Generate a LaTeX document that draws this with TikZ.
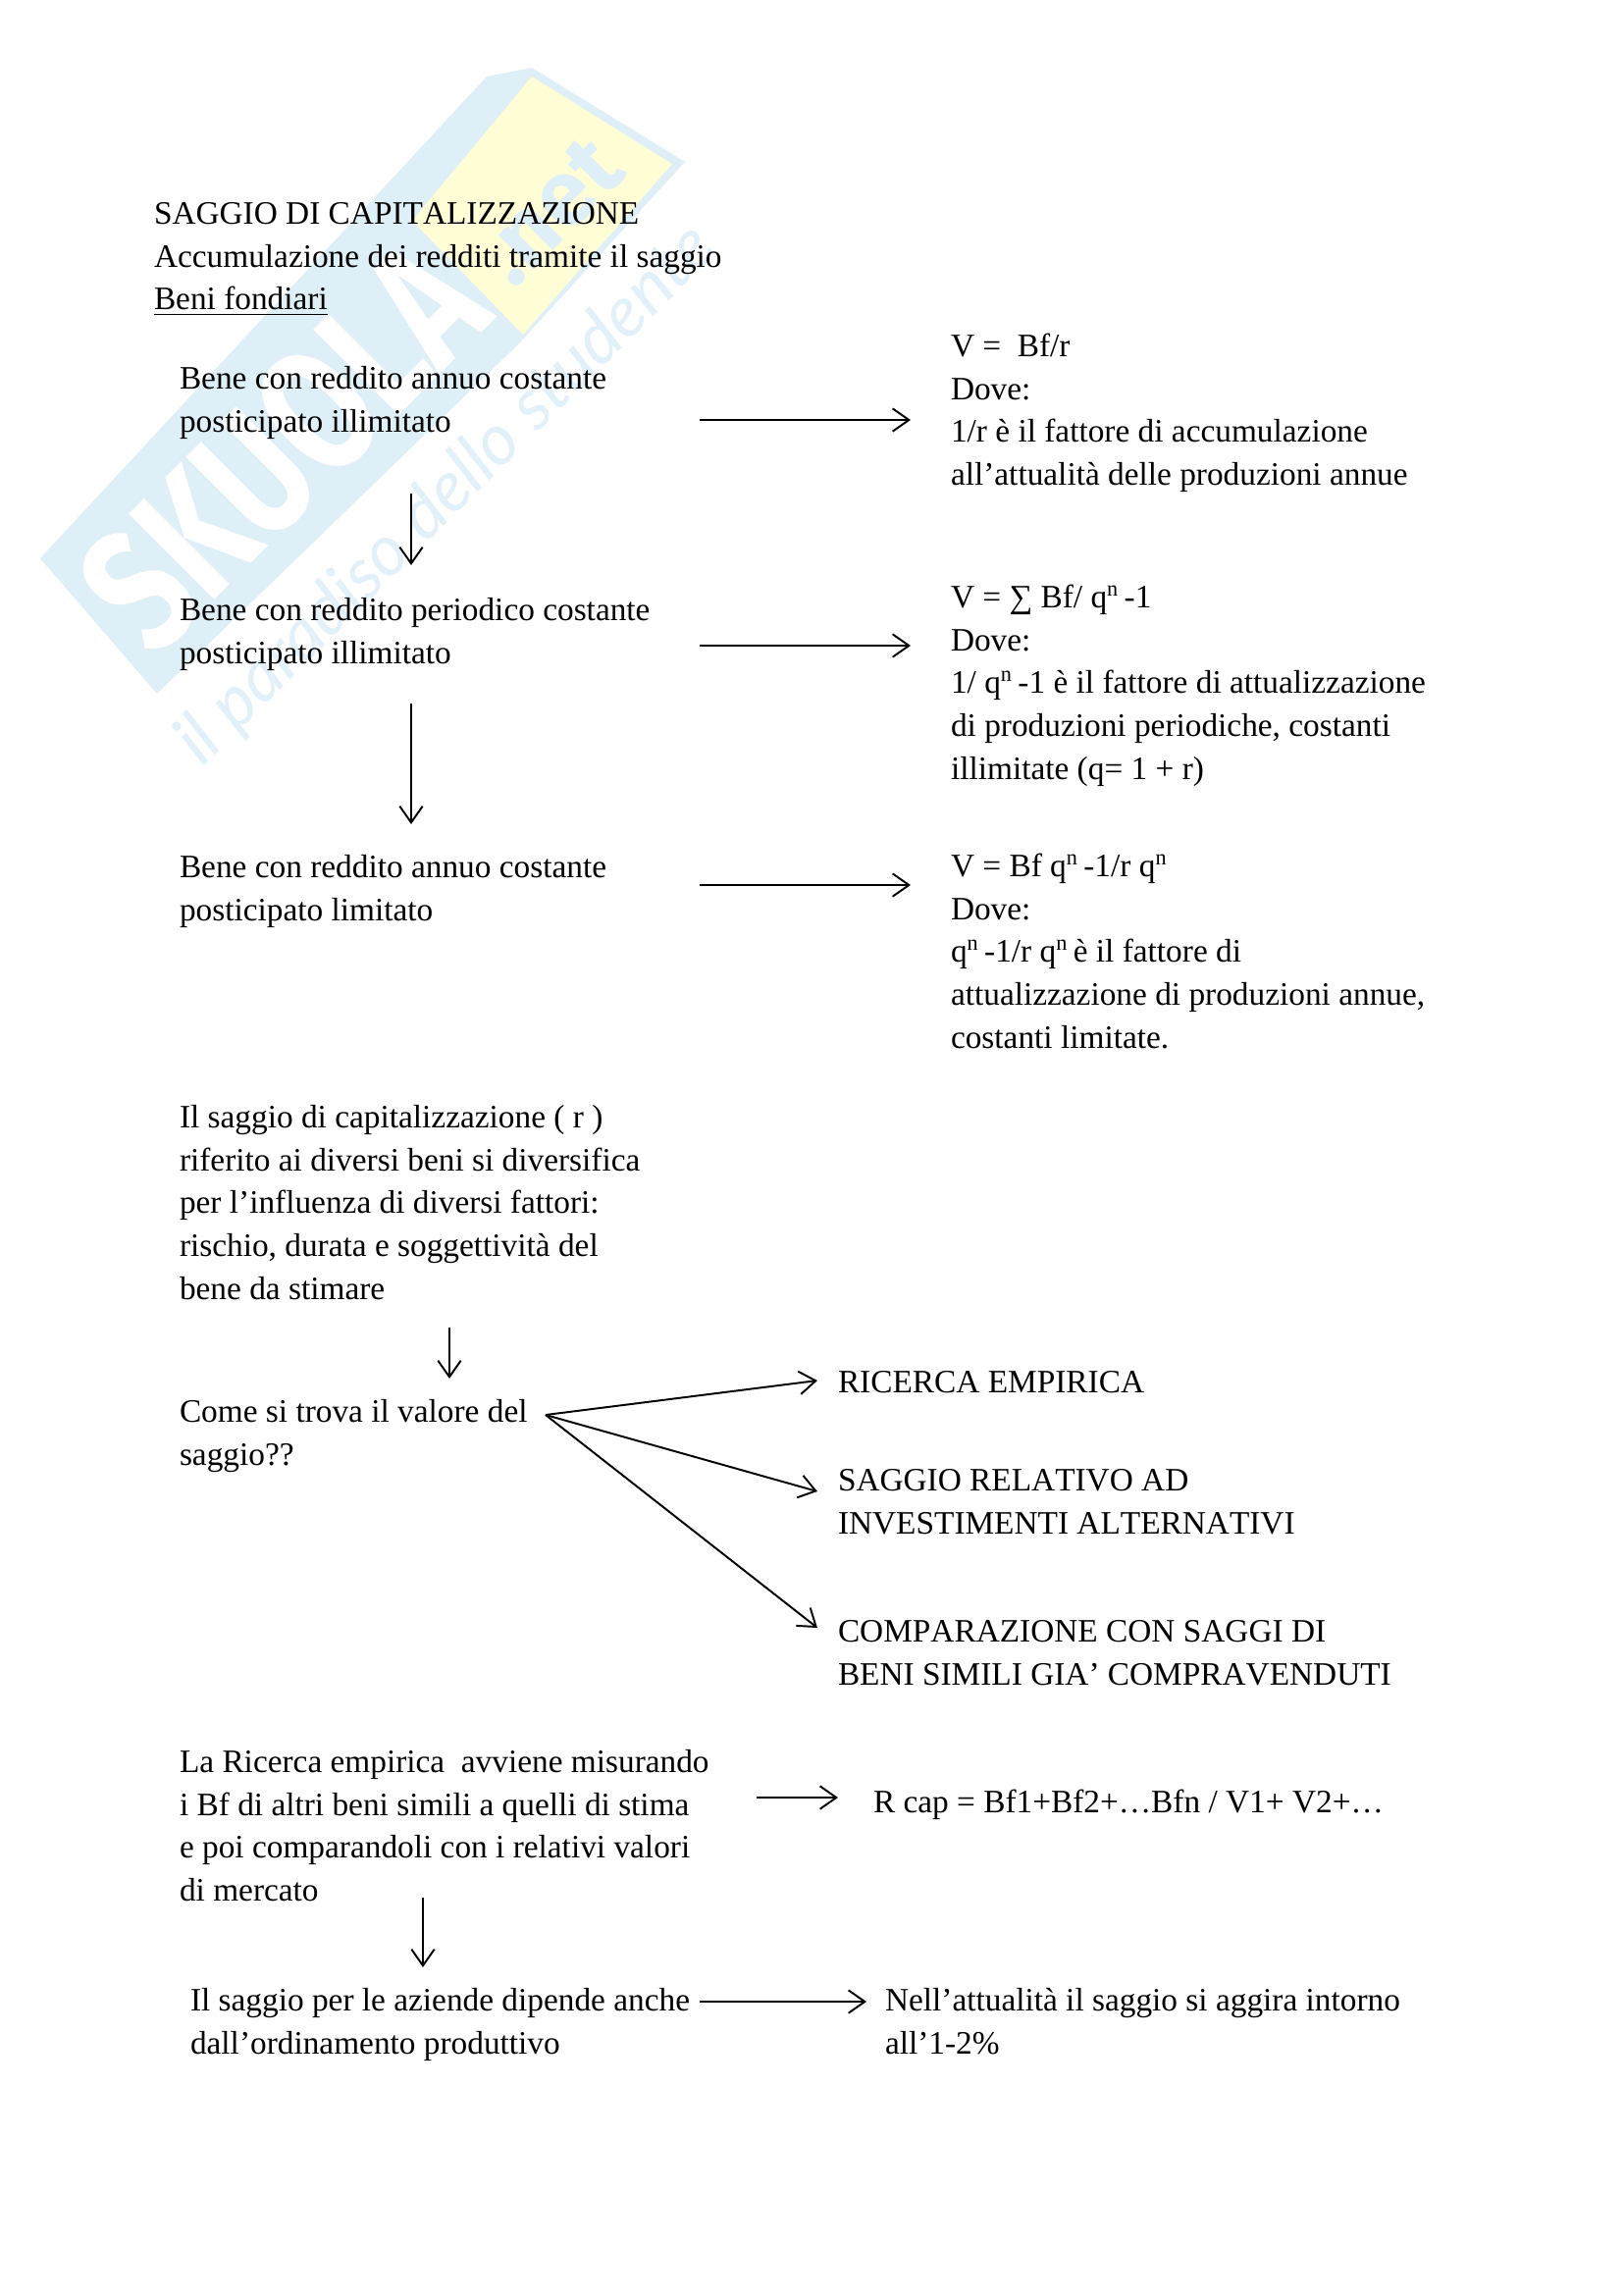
\documentclass[tikz,border=0pt]{standalone}
\usepackage{fontspec}
\setmainfont[Kerning=Off]{Liberation Serif}
\newfontfamily\wmfont{Fira Sans}
\newfontfamily\wmtag{Lato}
\definecolor{wmblue}{RGB}{222,239,248}
\definecolor{wmtext}{RGB}{226,241,249}
\definecolor{wmyellow}{RGB}{255,253,214}
\usetikzlibrary{arrows.meta}
\newcommand{\qnsup}{q\textsuperscript{n}}
\tikzset{
  x=0.36pt,y=-0.36pt,
  tx/.style={anchor=north west,inner sep=0pt,outer sep=0pt,align=left,yshift=10.66pt,font=\fontsize{12}{15.8}\selectfont},
  link/.style={draw=black,line width=0.7pt,-{Straight Barb[length=6pt,width=8.5pt,angle'=70]}},
}
\begin{document}
\begin{tikzpicture}
\useasboundingbox (0,0) rectangle (1654,2339);
\fill[white] (0,0) rectangle (1654,2339);
% watermark
\fill[wmblue] (41,569) -- (496,78) -- (542,69) -- (698,165) -- (529,350) -- (160,707) -- cycle;
\fill[wmyellow] (542,78) -- (685,167) -- (533,341) -- (420,225) -- cycle;
\node[rotate=45,text=white,font=\wmfont\bfseries\fontsize{64}{64}\selectfont,inner sep=0pt] (wm1) at (288,455) {\scalebox{0.76}[1]{SKUOLA}};
\node[rotate=45,text=wmblue,font=\wmfont\bfseries\fontsize{34}{34}\selectfont,inner sep=0pt] (wm2) at (560,215) {.net};
\node[rotate=45,text=wmtext,font=\wmtag\itshape\fontsize{26}{26}\selectfont,inner sep=0pt] (wm3) at (455,505) {il paradiso dello studente};
% text
\node[tx] (t1) at (157,227) {\strut SAGGIO DI CAPITALIZZAZIONE\\Accumulazione dei redditi tramite il saggio\\\underline{Beni fondiari}};
\node[tx] (a1) at (183,395) {\strut Bene con reddito annuo costante\\posticipato illimitato};
\node[tx] (a2) at (183,631) {\strut Bene con reddito periodico costante\\posticipato illimitato};
\node[tx] (a3) at (183,893) {\strut Bene con reddito annuo costante\\posticipato limitato};
\node[tx] (b1) at (969,362) {\strut V =\ \ Bf/r\\Dove:\\1/r è il fattore di accumulazione\\all’attualità delle produzioni annue};
\node[tx] (b2) at (969,618) {\strut V = ∑ Bf/ \qnsup\kern1.8pt -1\\Dove:\\1/ \qnsup\kern1.8pt -1 è il fattore di attualizzazione\\di produzioni periodiche, costanti\\illimitate (q= 1 + r)};
\node[tx] (b3) at (969,892) {\strut V = Bf \qnsup\kern1.8pt -1/r \qnsup\\Dove:\\\qnsup\kern1.8pt -1/r \qnsup\kern1.8pt è il fattore di\\attualizzazione di produzioni annue,\\costanti limitate.};
\node[tx] (c) at (183,1148) {\strut Il saggio di capitalizzazione ( r )\\riferito ai diversi beni si diversifica\\per l’influenza di diversi fattori:\\rischio, durata e soggettività del\\bene da stimare};
\node[tx] (d) at (183,1448) {\strut Come si trova il valore del\\saggio??};
\node[tx] (e1) at (854,1418) {\strut RICERCA EMPIRICA};
\node[tx] (e2) at (854,1518) {\strut SAGGIO RELATIVO AD\\INVESTIMENTI ALTERNATIVI};
\node[tx] (e3) at (854,1672) {\strut COMPARAZIONE CON SAGGI DI\\BENI SIMILI GIA’ COMPRAVENDUTI};
\node[tx] (f) at (183,1805) {\strut La Ricerca empirica\ \ avviene misurando\\i Bf di altri beni simili a quelli di stima\\e poi comparandoli con i relativi valori\\di mercato};
\node[tx] (g) at (890,1846) {\strut R cap = Bf1+Bf2+…Bfn / V1+ V2+…};
\node[tx] (h) at (194,2048) {\strut Il saggio per le aziende dipende anche\\dall’ordinamento produttivo};
\node[tx] (i) at (902,2048) {\strut Nell’attualità il saggio si aggira intorno\\all’1-2\%};
% arrow ends
\coordinate (a1e) at (713,428); \coordinate (b1w) at (928,428);
\coordinate (a2e) at (713,658); \coordinate (b2w) at (928,658);
\coordinate (a3e) at (713,902); \coordinate (b3w) at (928,902);
\coordinate (a1s) at (419,503); \coordinate (a2n) at (419,576);
\coordinate (a2s) at (419,717); \coordinate (a3n) at (419,840);
\coordinate (cs) at (458,1353); \coordinate (dn) at (458,1405);
\coordinate (de) at (556,1442); \coordinate (e1w) at (833,1407);
\coordinate (e2w) at (833,1520); \coordinate (e3w) at (833,1659);
\coordinate (fe) at (771,1832); \coordinate (gw) at (854,1832);
\coordinate (fs) at (431,1934); \coordinate (hn) at (431,2005);
\coordinate (he) at (713,2040); \coordinate (iw) at (883,2040);
\foreach \p/\q in {a1e/b1w,a2e/b2w,a3e/b3w,a1s/a2n,a2s/a3n,cs/dn,de/e1w,de/e2w,de/e3w,fe/gw,fs/hn,he/iw}
  \draw[link] (\p) -- (\q);
\end{tikzpicture}
\end{document}
